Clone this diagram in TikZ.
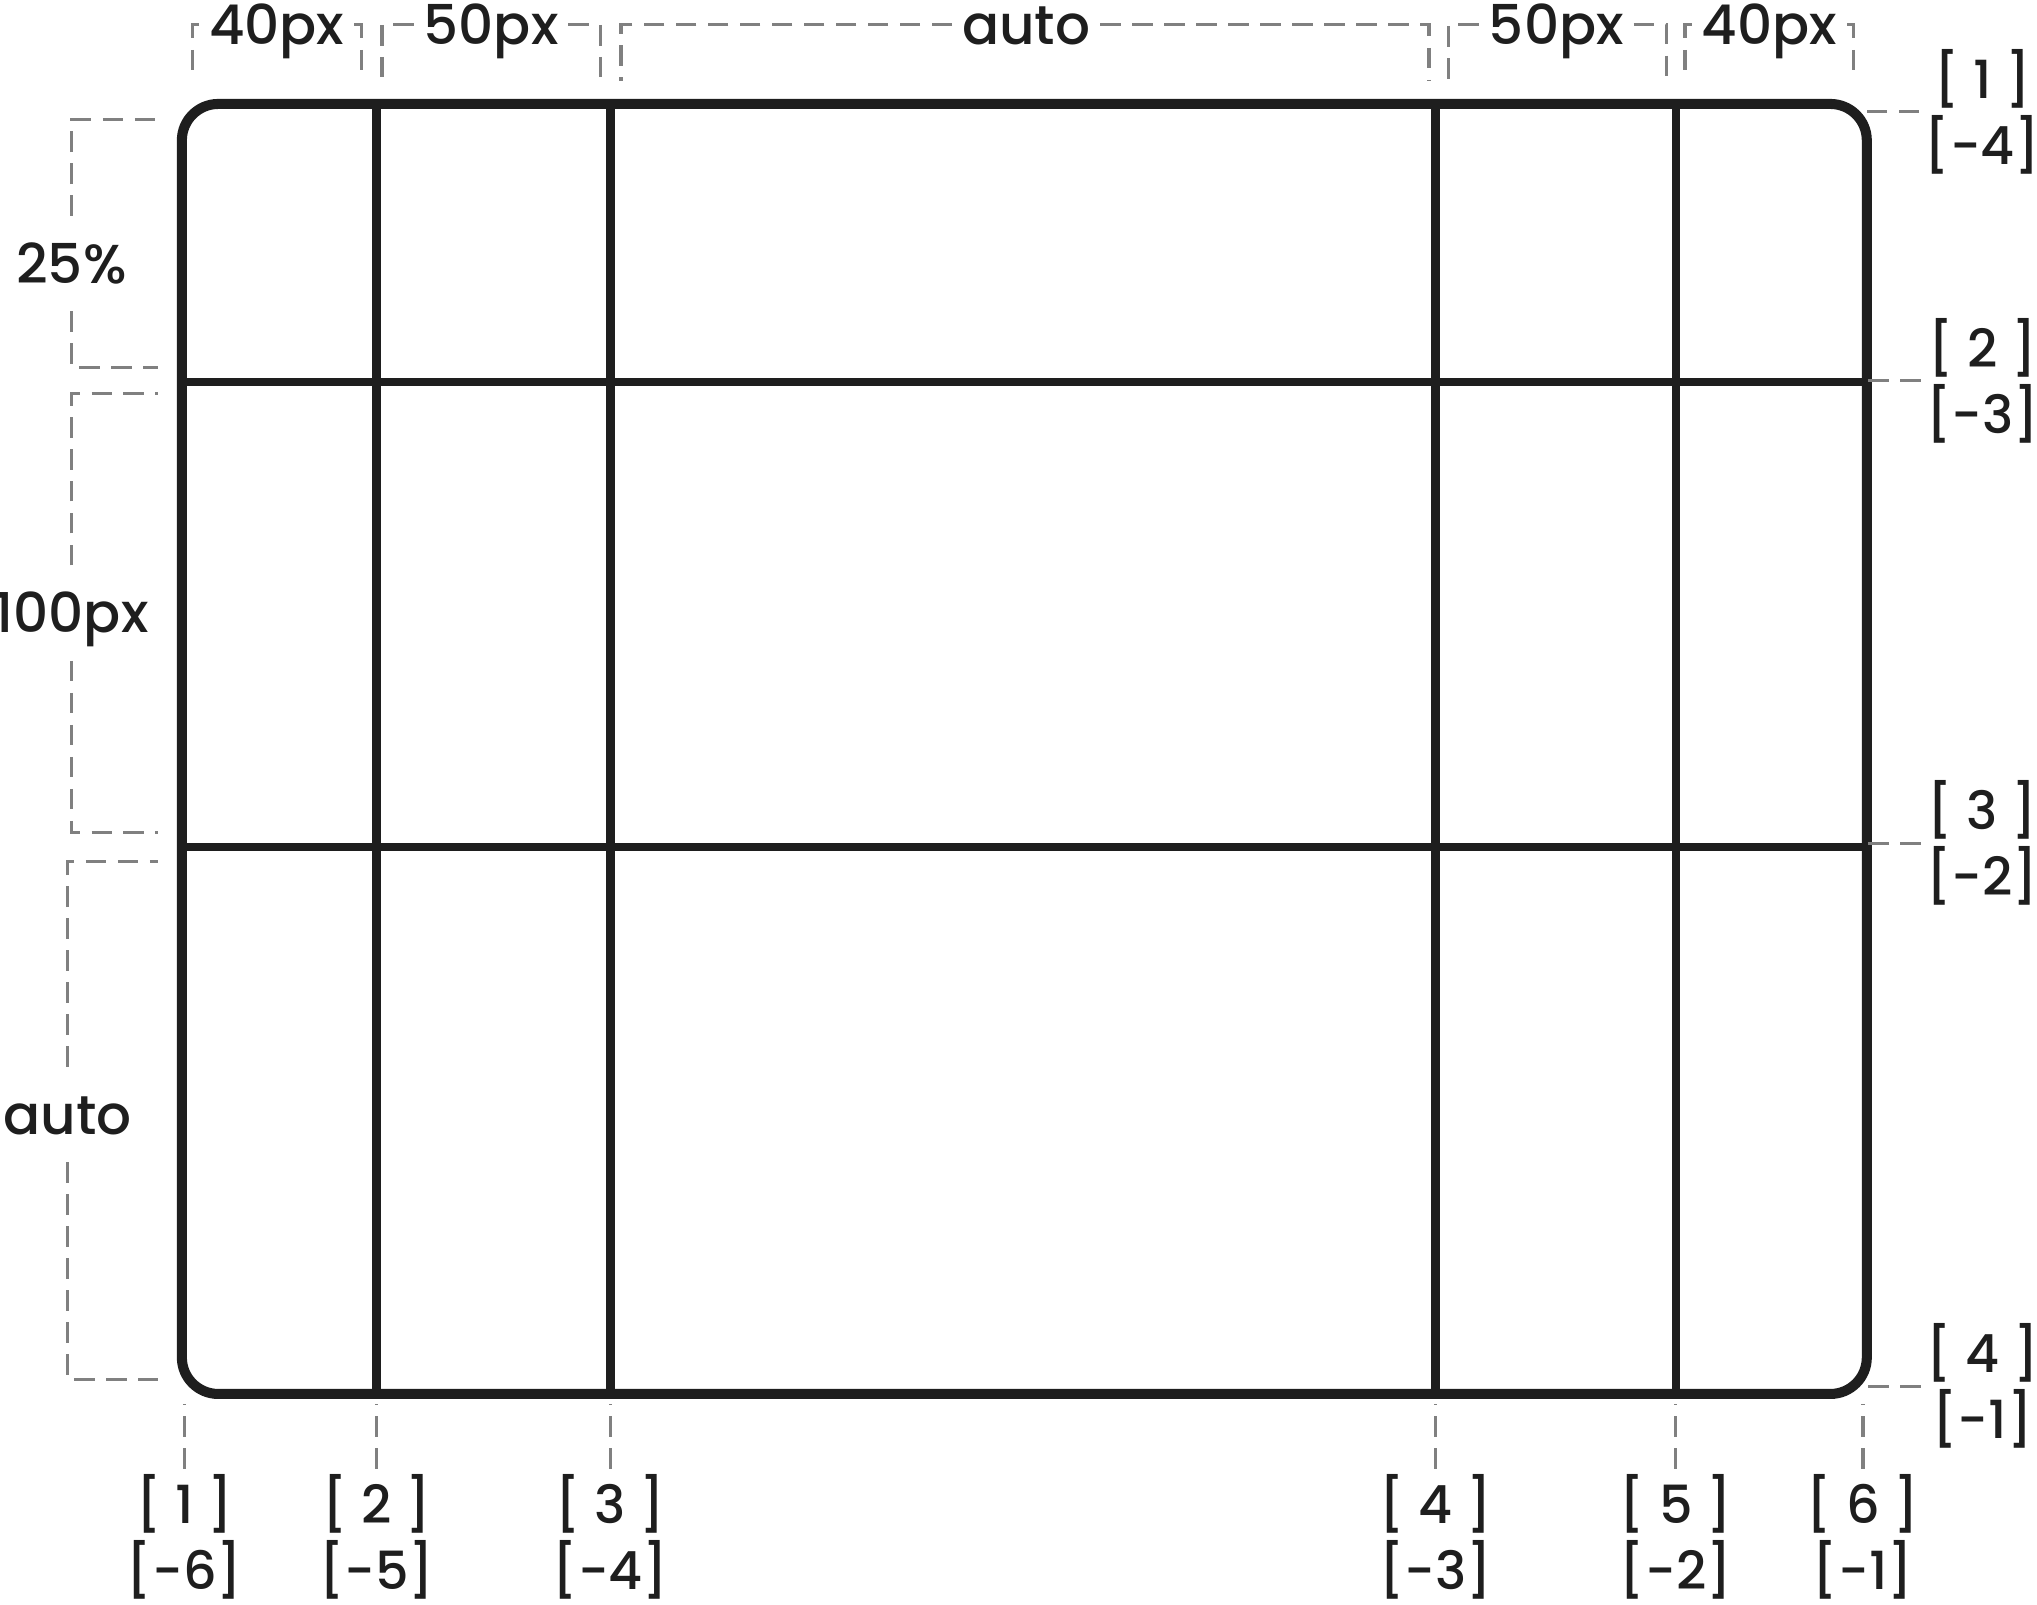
\documentclass[tikz,border=0pt]{standalone}
\usepackage{fontspec}
\setmainfont{Poppins}[UprightFont={Poppins Medium}]
\usetikzlibrary{positioning}
\definecolor{ink}{RGB}{30,30,30}
\definecolor{dimgray}{RGB}{128,128,128}
\tikzset{
  frame/.style  = {draw=ink, line width=2.2pt, rounded corners=2.8mm},
  track/.style  = {draw=ink, line width=1.9pt},
  dim/.style    = {draw=dimgray, line width=0.7pt, dash pattern=on 4.5pt off 2.5pt},
  dimlbl/.style = {text=ink, font=\fontsize{12}{14}\selectfont, inner xsep=2pt, inner ysep=6pt, text height=8.5pt, text depth=0pt},
  idx/.style    = {text=ink, font=\fontsize{11.5}{14.5}\selectfont, align=center, inner sep=1pt},
}
\begin{document}
\begin{tikzpicture}[x=0.01cm, y=-0.01cm]
  \useasboundingbox (0,0) rectangle (1568,1235);
  % grid container and tracks
  \draw[frame] (140,80) rectangle (1437,1073);
  \draw[track] (290,80) -- (290,1073);
  \draw[track] (470,80) -- (470,1073);
  \draw[track] (1105,80) -- (1105,1073);
  \draw[track] (1290,80) -- (1290,1073);
  \draw[track] (140,294) -- (1437,294);
  \draw[track] (140,652) -- (1437,652);

  % column sizes
  \node[dimlbl] (w1) at (213,19)  {40px};
  \node[dimlbl] (w2) at (378,19)  {50px};
  \node[dimlbl] (w3) at (790,19)  {auto};
  \node[dimlbl] (w4) at (1198,19) {50px};
  \node[dimlbl] (w5) at (1362,19) {40px};
  \draw[dim] (w1.west) -| (148,62);   \draw[dim] (w1.east) -| (278,62);
  \draw[dim] (w2.west) -| (294,62);   \draw[dim] (w2.east) -| (462,62);
  \draw[dim] (w3.west) -| (478,62);   \draw[dim] (w3.east) -| (1100,62);
  \draw[dim] (w4.west) -| (1115,62);  \draw[dim] (w4.east) -| (1283,62);
  \draw[dim] (w5.west) -| (1297,62);  \draw[dim] (w5.east) -| (1427,62);

  % row sizes
  \node[dimlbl] (h1) at (55,203) {25\%};
  \node[dimlbl] (h2) at (55,472) {100px};
  \node[dimlbl] (h3) at (52,858) {auto};
  \draw[dim] (h1.north) |- (122,92);   \draw[dim] (h1.south) |- (122,283);
  \draw[dim] (h2.north) |- (122,303);  \draw[dim] (h2.south) |- (122,641);
  \draw[dim] (h3.north) |- (122,663);  \draw[dim] (h3.south) |- (122,1062);

  % row line numbers
  \node[idx] (k1) at (1526,86)   {[ 1 ]\\{[-4]}};
  \node[idx] (k2) at (1526,293)  {[ 2 ]\\{[-3]}};
  \node[idx] (k3) at (1526,649)  {[ 3 ]\\{[-2]}};
  \node[idx] (k4) at (1526,1067) {[ 4 ]\\{[-1]}};
  \draw[dim] (k1.west) -- ++(-46,0);
  \draw[dim] (k2.west) -- ++(-46,0);
  \draw[dim] (k3.west) -- ++(-46,0);
  \draw[dim] (k4.west) -- ++(-46,0);

  % column line numbers
  \node[idx] (b1) at (142,1183)  {[ 1 ]\\{[-6]}};
  \node[idx] (b2) at (290,1183)  {[ 2 ]\\{[-5]}};
  \node[idx] (b3) at (470,1183)  {[ 3 ]\\{[-4]}};
  \node[idx] (b4) at (1105,1183) {[ 4 ]\\{[-3]}};
  \node[idx] (b5) at (1290,1183) {[ 5 ]\\{[-2]}};
  \node[idx] (b6) at (1434,1183) {[ 6 ]\\{[-1]}};
  \draw[dim] (b1.north) -- ++(0,-50);
  \draw[dim] (b2.north) -- ++(0,-50);
  \draw[dim] (b3.north) -- ++(0,-50);
  \draw[dim] (b4.north) -- ++(0,-50);
  \draw[dim] (b5.north) -- ++(0,-50);
  \draw[dim] (b6.north) -- ++(0,-50);
\end{tikzpicture}
\end{document}
